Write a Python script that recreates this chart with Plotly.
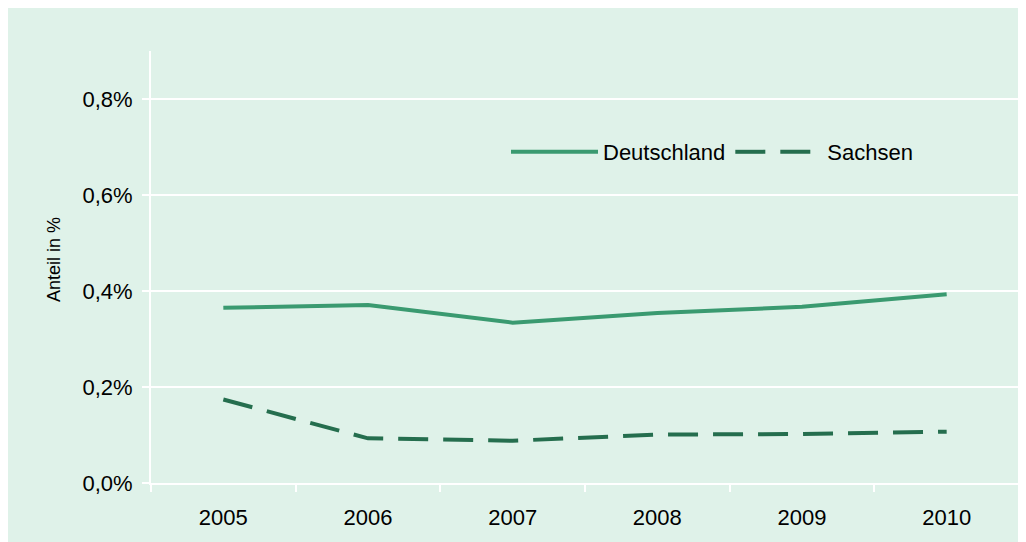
import plotly.graph_objects as go

years = ["2005", "2006", "2007", "2008", "2009", "2010"]
deutschland = [0.365, 0.371, 0.334, 0.354, 0.367, 0.393]
sachsen = [0.174, 0.093, 0.088, 0.101, 0.102, 0.107]
y_ticks = [0.0, 0.2, 0.4, 0.6, 0.8]
y_tick_labels = ["0,0%", "0,2%", "0,4%", "0,6%", "0,8%"]
y_title = "Anteil in %"

BG = "#dff2e9"
FONT = "Liberation Sans, Arial, sans-serif"

fig = go.Figure()
fig.add_trace(go.Scatter(
    x=years, y=deutschland, name="Deutschland", mode="lines",
    line=dict(color="#3a9a70", width=4),
))
fig.add_trace(go.Scatter(
    x=years, y=sachsen, name="Sachsen", mode="lines",
    line=dict(color="#256e4e", width=4, dash="30px,15px"),
))

OFF = 8  # body margin of the page
W, H = 1026, 542
L, T = 151 - OFF, 51 - OFF
R = W - (1019 - OFF)
B = H - (483 - OFF)
pw = W - L - R
ph = H - T - B

fig.add_annotation(
    text=y_title, textangle=-90, showarrow=False,
    xref="paper", yref="paper",
    x=(54 - 151) / pw, y=(483 - 260) / ph,
    xanchor="center", yanchor="middle",
    font=dict(family=FONT, size=18, color="#000000"),
)

fig.update_layout(
    width=W, height=H,
    margin=dict(l=L, r=R, t=T, b=B, pad=0),
    paper_bgcolor=BG,
    plot_bgcolor=BG,
    font=dict(family=FONT, size=22, color="#000000"),
    showlegend=True,
    legend=dict(
        orientation="h", x=(506 - 151) / pw, xanchor="left",
        y=(483 - 152) / ph, yanchor="middle",
        bgcolor="rgba(0,0,0,0)", itemwidth=87,
        font=dict(family=FONT, size=22, color="#000000"),
    ),
    xaxis=dict(
        type="category", range=[-0.5, 5.5],
        showgrid=False, showline=True, linecolor="white", linewidth=2,
        ticks="outside", tickson="boundaries", ticklen=7, tickcolor="white",
        tickwidth=2, ticklabelstandoff=14, zeroline=False,
    ),
    yaxis=dict(
        range=[0, 0.9], tickvals=y_ticks, ticktext=y_tick_labels,
        showgrid=True, gridcolor="white", gridwidth=2,
        showline=True, linecolor="white", linewidth=2,
        ticks="outside", ticklen=7, tickcolor="white", tickwidth=2,
        ticklabelstandoff=5, zeroline=False,
    ),
)

fig.write_html("out.html")
